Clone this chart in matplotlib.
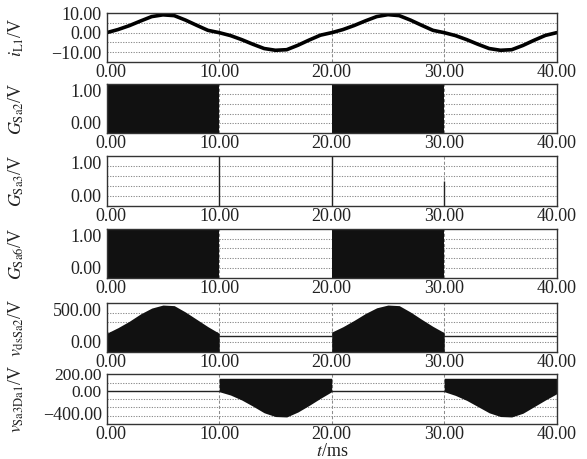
import matplotlib
matplotlib.use('Agg')
import matplotlib.pyplot as plt
from matplotlib.ticker import FuncFormatter
from matplotlib.transforms import ScaledTranslation

plt.rcParams['font.family'] = ['Liberation Serif', 'DejaVu Serif']
plt.rcParams['mathtext.fontset'] = 'stix'

# ---------------- data ----------------
t_ms = list(range(0, 41))
iL1 = [0.0, 1.6, 3.6, 6.0, 8.3, 9.2, 8.8, 6.5, 3.8, 1.2, 0.0,
       -1.5, -3.6, -6.0, -8.2, -9.1, -8.8, -6.5, -3.8, -1.3, 0.0,
       1.6, 3.7, 6.1, 8.3, 9.3, 8.8, 6.5, 3.8, 1.2, 0.0,
       -1.5, -3.6, -6.0, -8.2, -9.1, -8.8, -6.6, -3.9, -1.4, 0.0]

gate_t = [0, 10, 10, 20, 20, 30, 30, 40]
gSa2 = [1, 1, 0, 0, 1, 1, 0, 0]
gSa6 = [1, 1, 0, 0, 1, 1, 0, 0]
gSa3_pulse_t = [10, 20, 30]
gSa3_pulse_h = [1.0, 1.0, 0.5]

vds_t_a = list(range(0, 11))
vds_env_a = [188, 245, 310, 385, 445, 476, 470, 405, 330, 255, 188]
vds_t_b = list(range(20, 31))
vds_env_b = [200, 255, 320, 390, 448, 476, 470, 405, 330, 258, 194]
vds_off_spans = [(10, 20), (30, 40)]
vds_off = 160

vsa_t_a = list(range(10, 21))
vsa_env_a = [-10, -50, -110, -185, -265, -310, -315, -255, -175, -90, -10]
vsa_t_b = list(range(30, 41))
vsa_env_b = [-10, -55, -115, -190, -265, -310, -315, -270, -190, -110, -35]
vsa_top = 152
vsa_off_spans = [(0, 10), (20, 30)]
vsa_off = 0

x_ticks = [0, 10, 20, 30, 40]
ylabels = [r'$i_{\mathrm{L1}}$/V', r'$G_{\mathrm{Sa2}}$/V', r'$G_{\mathrm{Sa3}}$/V',
           r'$G_{\mathrm{Sa6}}$/V', r'$v_{\mathrm{dsSa2}}$/V', r'$v_{\mathrm{Sa3Da1}}$/V']
ylims = [(-15, 10), (0, 1), (0, 1), (0, 1), (0, 500), (-400, 200)]
yticks = [[-10, 0, 10], [0, 1], [0, 1], [0, 1], [0, 500], [-400, 0, 200]]
ygrid = [[5, 0, -5, -10], [0.2, 0.4, 0.6, 0.8], [0.2, 0.4, 0.6, 0.8],
         [0.2, 0.4, 0.6, 0.8], [100, 200, 300, 400], [100, 0, -100, -200, -300]]

# ---------------- layout ----------------
W, H = 587, 459
fig = plt.figure(figsize=(W / 100, H / 100), dpi=100)
panels_px = [(13.3, 61.7), (84, 133.3), (156, 206), (229, 277.7), (302.7, 351.7), (374.3, 424)]
left_px, right_px = 106.7, 556.7

FILL = '#111111'
TXT = '#222222'
fmt = FuncFormatter(lambda v, p: f"{v:.2f}".replace('-', '\u2212'))


def shift(text, dx_px, dy_px):
    text.set_transform(text.get_transform() +
                       ScaledTranslation(dx_px / 100, dy_px / 100, fig.dpi_scale_trans))


axes = []
for i, (tp, bp) in enumerate(panels_px):
    ax = fig.add_axes([left_px / W, 1 - bp / H, (right_px - left_px) / W, (bp - tp) / H])
    axes.append(ax)
    ax.set_xlim(0, 40)
    ax.set_ylim(*ylims[i])
    ax.set_xticks(x_ticks)
    ax.set_yticks(yticks[i])
    ax.set_yticks(ygrid[i], minor=True)
    ax.yaxis.remove_overlapping_locs = False
    ax.xaxis.set_major_formatter(fmt)
    ax.yaxis.set_major_formatter(fmt)
    ax.set_axisbelow(True)
    ax.grid(True, which='minor', axis='y', linestyle=(0, (1.2, 1.3)), color='#8c8c8c', lw=0.75)
    ax.grid(True, which='major', axis='x', linestyle=(0, (3, 2)), color='#8c8c8c', lw=0.75)
    ax.tick_params(which='both', length=0, labelsize=13, colors=TXT)
    ax.tick_params(axis='x', pad=1.5)
    ax.tick_params(axis='y', pad=3.5)
    for s in ax.spines.values():
        s.set_color('#333333')
        s.set_linewidth(1.0)
    ax.set_ylabel(ylabels[i], fontsize=13, color=TXT)
    ax.yaxis.set_label_coords((16 - left_px) / (right_px - left_px), 0.5)
    ax.yaxis.label.set_va('center')

# panel 1: inductor current
axes[0].plot(t_ms, iL1, color='black', lw=2.6, solid_joinstyle='round', solid_capstyle='round')

# panel 2 / 4: gate signals (PWM envelope)
axes[1].fill_between(gate_t, 0, gSa2, color=FILL, lw=0)
axes[3].fill_between(gate_t, 0, gSa6, color=FILL, lw=0)

# panel 3: narrow pulses
axes[2].vlines(gSa3_pulse_t, 0, gSa3_pulse_h, color=TXT, lw=1.0)

# panel 5: vds
axes[4].fill_between(vds_t_a, 0, vds_env_a, color=FILL, lw=0)
axes[4].fill_between(vds_t_b, 0, vds_env_b, color=FILL, lw=0)
for a, b in vds_off_spans:
    axes[4].plot([a, b], [vds_off, vds_off], color=TXT, lw=1.0)

# panel 6: v Sa3 Da1
axes[5].fill_between(vsa_t_a, vsa_env_a, vsa_top, color=FILL, lw=0)
axes[5].fill_between(vsa_t_b, vsa_env_b, vsa_top, color=FILL, lw=0)
for a, b in vsa_off_spans:
    axes[5].plot([a, b], [vsa_off, vsa_off], color=TXT, lw=1.0)

# alignment of top / bottom tick labels for panels 2-6
for ax in axes[1:]:
    ticks = ax.yaxis.get_major_ticks()
    ticks[0].label1.set_va('bottom')
    ticks[-1].label1.set_va('top')

# panel 6 labels are crowded: slightly smaller, top one nudged up
t6 = axes[5].yaxis.get_major_ticks()
for tk in t6[1:]:
    tk.label1.set_fontsize(12.5)
shift(t6[-1].label1, 0, 6)

# first x tick label sits slightly right of the axis edge
for ax in axes:
    shift(ax.xaxis.get_major_ticks()[0].label1, 4, 0)

fig.text((left_px + right_px) / 2 / W, 1 - 452 / H, r'$t$/ms', ha='center', va='center',
         fontsize=13, color=TXT)

fig.savefig('out.png', dpi=100)
